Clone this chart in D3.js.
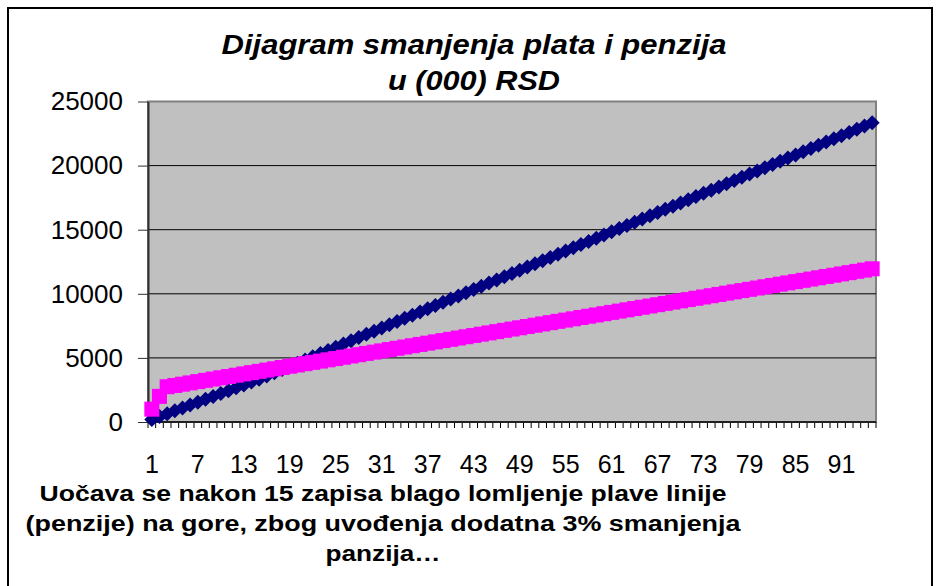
<!DOCTYPE html>
<html>
<head>
<meta charset="utf-8">
<script src="https://cdn.jsdelivr.net/npm/d3@7"></script>
<style>
    body { margin: 0; background: #fff; }
    text { font-family: "Liberation Sans", Arial, sans-serif; }
</style>
</head>
<body>
<div id="chart"></div>
<script>
// categories 1..95 (zapisi)
const categories = d3.range(1, 96);

// blue series (navy diamonds)
const plate = [
    200, 424, 648, 872, 1096, 1320, 1544, 1768, 1992, 2216,
    2440, 2664, 2888, 3112, 3336, 3586, 3836, 4086, 4336, 4586,
    4836, 5086, 5336, 5586, 5836, 6086, 6336, 6586, 6836, 7086,
    7336, 7586, 7836, 8086, 8336, 8586, 8836, 9086, 9336, 9586,
    9836, 10086, 10336, 10586, 10836, 11086, 11336, 11586, 11836, 12086,
    12336, 12586, 12836, 13086, 13336, 13586, 13836, 14086, 14336, 14586,
    14836, 15086, 15336, 15586, 15836, 16086, 16336, 16586, 16836, 17086,
    17336, 17586, 17836, 18086, 18336, 18586, 18836, 19086, 19336, 19586,
    19836, 20086, 20336, 20586, 20836, 21086, 21336, 21586, 21836, 22086,
    22336, 22586, 22836, 23086, 23336
];

// magenta series (squares)
const penzije = [
    1000, 2000, 2750, 2850, 2950, 3050, 3150, 3250, 3350, 3450,
    3550, 3650, 3750, 3850, 3950, 4050, 4150, 4250, 4350, 4450,
    4550, 4650, 4750, 4850, 4950, 5050, 5150, 5250, 5350, 5450,
    5550, 5650, 5750, 5850, 5950, 6050, 6150, 6250, 6350, 6450,
    6550, 6650, 6750, 6850, 6950, 7050, 7150, 7250, 7350, 7450,
    7550, 7650, 7750, 7850, 7950, 8050, 8150, 8250, 8350, 8450,
    8550, 8650, 8750, 8850, 8950, 9050, 9150, 9250, 9350, 9450,
    9550, 9650, 9750, 9850, 9950, 10050, 10150, 10250, 10350, 10450,
    10550, 10650, 10750, 10850, 10950, 11050, 11150, 11250, 11350, 11450,
    11550, 11650, 11750, 11850, 11950
];

const xTickLabels = [1, 7, 13, 19, 25, 31, 37, 43, 49, 55, 61, 67, 73, 79, 85, 91];
const yTicks = [0, 5000, 10000, 15000, 20000, 25000];

const titleLines = ["Dijagram smanjenja plata i penzija", "u (000) RSD"];
const noteLines = [
    "Uočava se nakon 15 zapisa blago lomljenje plave linije",
    "(penzije) na gore,  zbog uvođenja dodatna 3% smanjenja",
    "panzija…"
];

const W = 942, H = 586;
const plot = {left: 148, right: 876, top: 101.5, bottom: 422};

const svg = d3.select("#chart").append("svg")
    .attr("width", W)
    .attr("height", H);

// outer frame
svg.append("rect")
    .attr("x", 8).attr("y", 8)
    .attr("width", 924).attr("height", 620)
    .attr("fill", "#fff")
    .attr("stroke", "#000")
    .attr("stroke-width", 2);

// scales
const x = d3.scaleBand()
    .domain(categories)
    .range([plot.left, plot.right]);

const y = d3.scaleLinear()
    .domain([0, 25000])
    .range([plot.bottom, plot.top]);

// plot area
svg.append("rect")
    .attr("x", plot.left).attr("y", plot.top)
    .attr("width", plot.right - plot.left)
    .attr("height", plot.bottom - plot.top)
    .attr("fill", "#c0c0c0")
    .attr("stroke", "#808080")
    .attr("stroke-width", 2);

// gridlines
svg.append("g").selectAll("line")
    .data(yTicks.filter(d => d > 0 && d < 25000))
    .join("line")
    .attr("x1", plot.left).attr("x2", plot.right)
    .attr("y1", d => y(d)).attr("y2", d => y(d))
    .attr("stroke", "#000")
    .attr("stroke-width", 1);

// y axis
const yAxis = svg.append("g")
    .attr("transform", `translate(${plot.left},0)`)
    .call(d3.axisLeft(y).tickValues(yTicks).tickFormat(d3.format("d"))
        .tickSize(10).tickPadding(15).tickSizeOuter(0));
yAxis.select(".domain").attr("stroke", "#303030").attr("stroke-width", 2);
yAxis.selectAll(".tick line").attr("stroke", "#303030");
yAxis.selectAll("text")
    .attr("font-size", 26)
    .attr("fill", "#000")
    .style("font-family", "'Liberation Sans', Arial, sans-serif");

// x axis: ticks on category boundaries, labels every 6th category
const bounds = categories.map(c => x(c)).concat([plot.right]);
svg.append("g").selectAll("line")
    .data(bounds)
    .join("line")
    .attr("x1", d => d).attr("x2", d => d)
    .attr("y1", plot.bottom).attr("y2", plot.bottom + 6)
    .attr("stroke", "#000");
svg.append("line")
    .attr("x1", plot.left).attr("x2", plot.right)
    .attr("y1", plot.bottom).attr("y2", plot.bottom)
    .attr("stroke", "#202020")
    .attr("stroke-width", 2);

const xAxis = svg.append("g")
    .attr("transform", `translate(0,${plot.bottom})`)
    .call(d3.axisBottom(x).tickValues(xTickLabels).tickSize(0).tickPadding(33));
xAxis.select(".domain").remove();
xAxis.selectAll("text")
    .attr("font-size", 25)
    .attr("fill", "#000")
    .style("font-family", "'Liberation Sans', Arial, sans-serif");

// series
const cx = c => x(c) + x.bandwidth() / 2;

function drawSeries(values, color, marker) {
    let g = svg.append("g");
    let pts = categories.map((c, i) => [cx(c), y(values[i])]);
    g.append("path")
        .attr("d", d3.line()(pts))
        .attr("fill", "none")
        .attr("stroke", color)
        .attr("stroke-width", 3);
    g.selectAll("path.m")
        .data(pts)
        .join("path")
        .attr("class", "m")
        .attr("d", marker)
        .attr("transform", d => `translate(${d[0]},${d[1]})`)
        .attr("fill", color);
}

drawSeries(plate, "#000080", "M0,-7.5L7.5,0L0,7.5L-7.5,0Z");
drawSeries(penzije, "#ff00ff", "M-7.5,-7.5H7.5V7.5H-7.5Z");

// title
const titleWidths = [505, 172];
svg.append("g").selectAll("text")
    .data(titleLines)
    .join("text")
    .attr("x", 474)
    .attr("y", (d, i) => 54 + i * 36)
    .attr("text-anchor", "middle")
    .attr("font-size", 28)
    .attr("font-weight", "bold")
    .attr("font-style", "italic")
    .attr("textLength", (d, i) => titleWidths[i])
    .attr("lengthAdjust", "spacingAndGlyphs")
    .text(d => d);

// note below chart
const noteWidths = [687, 715, 115];
svg.append("g").selectAll("text")
    .data(noteLines)
    .join("text")
    .attr("x", 383)
    .attr("y", (d, i) => 501 + i * 30)
    .attr("text-anchor", "middle")
    .attr("font-size", 22)
    .attr("font-weight", "bold")
    .attr("textLength", (d, i) => noteWidths[i])
    .attr("lengthAdjust", "spacingAndGlyphs")
    .text(d => d);
</script>
</body>
</html>
